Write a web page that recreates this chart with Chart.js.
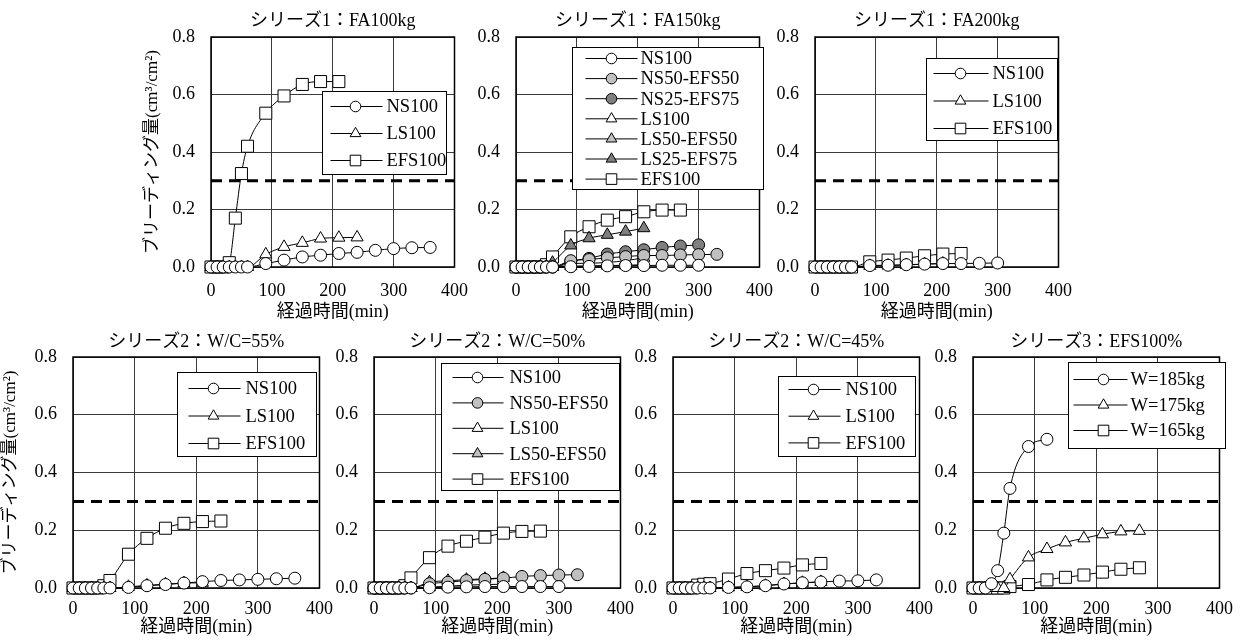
<!DOCTYPE html>
<html>
<head>
<meta charset="utf-8">
<script src="https://cdn.jsdelivr.net/npm/chart.js@4.4.1/dist/chart.umd.min.js"></script>
<style>
html,body{margin:0;padding:0;background:#fff;width:1244px;height:641px;overflow:hidden;position:relative;}
canvas{position:absolute;}
</style>
</head>
<body>
<script>
// ---------------- data ----------------
const TIME_MIN = [0,10,20,30,40,50,60,90,120,150,180,210,240,270,300,330,360];
const X_TICKS = [0,100,200,300,400];
const Y_TICKS = [0.0,0.2,0.4,0.6,0.8];
const LIMIT_LINE = 0.3;

// シリーズ1：FA100kg
const FA100_NS100  = [0,0,0,0,0,0,0,0.012,0.024,0.035,0.041,0.047,0.051,0.058,0.064,0.067,0.068];
const FA100_LS100  = [0,0,0,0,0,0,0,0.044,0.070,0.084,0.099,0.102,0.103];
const FA100_EFS100 = [0,0,0,0.015,0.170,0.325,0.420,0.535,0.595,0.635,0.645,0.645];

// シリーズ1：FA150kg
const FA150_NS100      = [0,0,0,0,0,0,0,0.001,0.002,0.004,0.005,0.005,0.006,0.006,0.006];
const FA150_NS50_EFS50 = [0,0,0,0,0,0,0,0.022,0.026,0.032,0.036,0.040,0.040,0.042,0.043,0.044];
const FA150_NS25_EFS75 = [0,0,0,0,0,0,0,0.020,0.030,0.045,0.053,0.060,0.068,0.073,0.077];
const FA150_LS100      = [0,0,0,0,0,0,0,0.003,0.004,0.005,0.006,0.008];
const FA150_LS50_EFS50 = [0,0,0,0,0,0,0,0.012,0.013,0.016,0.022,0.032];
const FA150_LS25_EFS75 = [0,0,0,0,0,0,0.015,0.075,0.100,0.112,0.123,0.135];
const FA150_EFS100     = [0,0,0,0,0,0.008,0.035,0.105,0.140,0.163,0.175,0.192,0.198,0.198];

// シリーズ1：FA200kg
const FA200_NS100  = [0,0,0,0,0,0,0,0.005,0.006,0.008,0.010,0.012,0.012,0.013,0.014];
const FA200_LS100  = [0,0,0,0,0,0,0,0.004,0.005,0.007,0.010,0.012];
const FA200_EFS100 = [0,0,0,0,0,0,0,0.018,0.024,0.031,0.039,0.045,0.047];

// シリーズ2：W/C=55%
const WC55_NS100  = [0,0,0,0,0,0,0,0.002,0.008,0.012,0.017,0.022,0.026,0.028,0.030,0.032,0.034];
const WC55_LS100  = [0,0,0,0,0,0,0,0.004,0.009,0.013,0.017,0.018];
const WC55_EFS100 = [0,0,0,0,0,0.008,0.026,0.117,0.172,0.207,0.224,0.230,0.232];

// シリーズ2：W/C=50%
const WC50_NS100      = [0,0,0,0,0,0,0,0.001,0.003,0.004,0.005,0.005,0.005,0.005,0.005];
const WC50_NS50_EFS50 = [0,0,0,0,0,0,0,0.015,0.020,0.026,0.030,0.034,0.040,0.043,0.045,0.046];
const WC50_LS100      = [0,0,0,0,0,0,0,0.003,0.006,0.010,0.012,0.013];
const WC50_LS50_EFS50 = [0,0,0,0,0,0,0,0.020,0.025,0.029,0.032,0.035];
const WC50_EFS100     = [0,0,0,0,0,0.008,0.035,0.105,0.145,0.162,0.176,0.190,0.196,0.197];

// シリーズ2：W/C=45%
const WC45_NS100  = [0,0,0,0,0,0,0,0.002,0.004,0.008,0.014,0.018,0.021,0.024,0.025,0.028];
const WC45_LS100  = [0,0,0,0,0,0,0,0.002,0.004,0.008,0.014,0.018,0.021];
const WC45_EFS100 = [0,0,0,0,0.010,0.013,0.015,0.031,0.050,0.060,0.069,0.080,0.085];

// シリーズ3：EFS100%
const S3_W185 = [0,0,0,0.015,0.060,0.190,0.345,0.490,0.515];
const S3_W175 = [0,0,0,0,0,0,0.030,0.106,0.135,0.158,0.172,0.186,0.196,0.198];
const S3_W165 = [0,0,0,0,0,0,0.005,0.012,0.028,0.037,0.045,0.055,0.065,0.070];

// ---------------- styles ----------------
const SERIF = "'Liberation Serif', 'Times New Roman', 'Noto Sans CJK JP', serif";
const WHITE = '#ffffff', LGRAY = '#c0c0c0', DGRAY = '#7f7f7f';
const PLOT_R = {circle: 6, triangle: 7, rect: 8.5};
const LEG_R  = {circle: 5.3, triangle: 6.2, rect: 7.5};

function drawMarker(ctx, shape, x, y, r, fill) {
  ctx.beginPath();
  if (shape === 'circle') {
    ctx.arc(x, y, r, 0, Math.PI * 2);
  } else if (shape === 'triangle') {
    ctx.moveTo(x, y - r);
    ctx.lineTo(x + 0.866 * r, y + 0.5 * r);
    ctx.lineTo(x - 0.866 * r, y + 0.5 * r);
    ctx.closePath();
  } else {
    const s = Math.SQRT1_2 * r;
    ctx.rect(x - s, y - s, 2 * s, 2 * s);
  }
  ctx.fillStyle = fill; ctx.fill();
  ctx.strokeStyle = '#000'; ctx.lineWidth = 1; ctx.stroke();
}

function series(label, values, shape, fill) {
  return {
    label, shape, fillc: fill,
    data: values.map((v, i) => ({x: TIME_MIN[i], y: v})),
    borderColor: '#000', borderWidth: 1, fill: false,
    pointStyle: shape, pointRadius: PLOT_R[shape],
    pointBackgroundColor: fill, pointBorderColor: '#000', pointBorderWidth: 1,
    cubicInterpolationMode: 'monotone', clip: false
  };
}
function limitLine() {
  return {
    label: '_limit', isRef: true,
    data: [{x: X_TICKS[0], y: LIMIT_LINE}, {x: X_TICKS[X_TICKS.length-1], y: LIMIT_LINE}],
    borderColor: '#000', borderWidth: 3, borderDash: [11, 7], pointRadius: 0, fill: false, clip: false
  };
}

const framePlugin = {
  id: 'frame',
  beforeDatasetsDraw(chart) {
    const {ctx, chartArea: a} = chart;
    ctx.save();
    ctx.strokeStyle = '#000'; ctx.lineWidth = 1.5;
    ctx.strokeRect(a.left, a.top, a.right - a.left, a.bottom - a.top);
    ctx.restore();
  }
};
function legendPlugin(cfg) {
  return {
    id: 'boxLegend',
    afterDatasetsDraw(chart) {
      const {ctx, chartArea: a} = chart;
      const items = chart.data.datasets.filter(d => !d.isRef);
      const x0 = Math.round(a.left + cfg.dx) + 0.5, y0 = Math.round(a.top + cfg.dy) + 0.5;
      ctx.save();
      ctx.fillStyle = '#fff'; ctx.fillRect(x0, y0, cfg.w, cfg.h);
      ctx.strokeStyle = '#000'; ctx.lineWidth = 1; ctx.strokeRect(x0, y0, cfg.w, cfg.h);
      items.forEach((it, i) => {
        const cy = y0 + cfg.first + i * cfg.row;
        ctx.beginPath(); ctx.moveTo(x0 + cfg.l0, cy); ctx.lineTo(x0 + cfg.l1, cy);
        ctx.strokeStyle = '#000'; ctx.lineWidth = 1; ctx.stroke();
        drawMarker(ctx, it.shape, x0 + cfg.mk, cy, LEG_R[it.shape], it.fillc);
        ctx.fillStyle = '#000'; ctx.font = cfg.fs + 'px ' + SERIF;
        ctx.textAlign = 'left'; ctx.textBaseline = 'middle';
        ctx.fillText(it.label, x0 + cfg.tx, cy + 1);
      });
      ctx.restore();
    }
  };
}

// ---------------- panels ----------------
const TOP = {t: 37, b: 267, ct: 0, ch: 324, tickPad: 13, xtPad: 0.5, titlePad: [10.7, 4.7]};
const BOT = {t: 357, b: 588, ct: 320, ch: 321, tickPad: 10, xtPad: 3, titlePad: [11.2, 4.2]};

const PANELS = [
  {row: TOP, l: 211, r: 465, title: 'シリーズ1：FA100kg', ytitle: true, wy: 75, ytPad: 6.8,
   legend: {dx: 111, dy: 54, w: 124, h: 83, first: 15, row: 27, l0: 8, l1: 60, mk: 33, tx: 64, fs: 18.5},
   ds: [series('NS100', FA100_NS100, 'circle', WHITE),
        series('LS100', FA100_LS100, 'triangle', WHITE),
        series('EFS100', FA100_EFS100, 'rect', WHITE)]},
  {row: TOP, l: 516, r: 770, title: 'シリーズ1：FA150kg', ytitle: false, wy: 45,
   legend: {dx: 56, dy: 10, w: 191, h: 142, first: 11, row: 20.1, l0: 13, l1: 65, mk: 39, tx: 68, fs: 18.5},
   ds: [series('NS100', FA150_NS100, 'circle', WHITE),
        series('NS50-EFS50', FA150_NS50_EFS50, 'circle', LGRAY),
        series('NS25-EFS75', FA150_NS25_EFS75, 'circle', DGRAY),
        series('LS100', FA150_LS100, 'triangle', WHITE),
        series('LS50-EFS50', FA150_LS50_EFS50, 'triangle', LGRAY),
        series('LS25-EFS75', FA150_LS25_EFS75, 'triangle', DGRAY),
        series('EFS100', FA150_EFS100, 'rect', WHITE)]},
  {row: TOP, l: 815, r: 1069, title: 'シリーズ1：FA200kg', ytitle: false, wy: 45,
   legend: {dx: 111, dy: 21, w: 131, h: 82, first: 15, row: 27.5, l0: 7, l1: 62, mk: 34, tx: 66, fs: 18.5},
   ds: [series('NS100', FA200_NS100, 'circle', WHITE),
        series('LS100', FA200_LS100, 'triangle', WHITE),
        series('EFS100', FA200_EFS100, 'rect', WHITE)]},
  {row: BOT, l: 73, r: 327, title: 'シリーズ2：W/C=55%', ytitle: true, wy: 73, ytPad: 0.8,
   legend: {dx: 104, dy: 15, w: 139, h: 84, first: 16, row: 27.5, l0: 11, l1: 63, mk: 36, tx: 68, fs: 18.5},
   ds: [series('NS100', WC55_NS100, 'circle', WHITE),
        series('LS100', WC55_LS100, 'triangle', WHITE),
        series('EFS100', WC55_EFS100, 'rect', WHITE)]},
  {row: BOT, l: 374, r: 628, title: 'シリーズ2：W/C=50%', ytitle: false, wy: 45,
   legend: {dx: 67, dy: 6, w: 178, h: 127, first: 14, row: 25.4, l0: 11, l1: 62, mk: 36, tx: 68, fs: 18.5},
   ds: [series('NS100', WC50_NS100, 'circle', WHITE),
        series('NS50-EFS50', WC50_NS50_EFS50, 'circle', LGRAY),
        series('LS100', WC50_LS100, 'triangle', WHITE),
        series('LS50-EFS50', WC50_LS50_EFS50, 'triangle', LGRAY),
        series('EFS100', WC50_EFS100, 'rect', WHITE)]},
  {row: BOT, l: 673, r: 927, title: 'シリーズ2：W/C=45%', ytitle: false, wy: 45,
   legend: {dx: 105, dy: 19, w: 137, h: 80, first: 13, row: 26.7, l0: 10, l1: 62, mk: 35, tx: 67, fs: 18.5},
   ds: [series('NS100', WC45_NS100, 'circle', WHITE),
        series('LS100', WC45_LS100, 'triangle', WHITE),
        series('EFS100', WC45_EFS100, 'rect', WHITE)]},
  {row: BOT, l: 973, r: 1227, title: 'シリーズ3：EFS100%', ytitle: false, wy: 45,
   legend: {dx: 95, dy: 5, w: 157, h: 86, first: 17, row: 25.5, l0: 5, l1: 59, mk: 35, tx: 62, fs: 18.5},
   ds: [series('W=185kg', S3_W185, 'circle', WHITE),
        series('W=175kg', S3_W175, 'triangle', WHITE),
        series('W=165kg', S3_W165, 'rect', WHITE)]}
];

const RP = 16;
PANELS.forEach(p => {
  const R = p.row;
  const cv = document.createElement('canvas');
  const left = p.l - p.wy;
  const width = p.wy + (p.r - p.l) + RP;
  const hx = (R.ct + R.ch) - R.b;
  cv.width = width; cv.height = R.ch;
  cv.style.left = left + 'px'; cv.style.top = R.ct + 'px';
  cv.style.width = width + 'px'; cv.style.height = R.ch + 'px';
  document.body.appendChild(cv);
  const ht = R.t - R.ct;

  new Chart(cv.getContext('2d'), {
    type: 'line',
    data: {datasets: [...p.ds, limitLine()]},
    options: {
      responsive: false, animation: false, devicePixelRatio: 1,
      layout: {padding: {left: 0, top: 0, right: RP, bottom: 0}},
      plugins: {
        legend: {display: false}, tooltip: {enabled: false},
        title: {display: true, text: p.title, fullSize: false, color: '#000',
          font: {family: SERIF, size: 18, weight: 'normal', lineHeight: 1.2},
          padding: {top: R.titlePad[0], bottom: ht - R.titlePad[0] - 21.6}}
      },
      scales: {
        x: {
          type: 'linear', min: X_TICKS[0], max: X_TICKS[X_TICKS.length-1],
          afterBuildTicks: s => { s.ticks = X_TICKS.map(v => ({value: v})); },
          afterFit: s => { s.height = hx; },
          ticks: {color: '#000', font: {family: SERIF, size: 18}, padding: R.tickPad, maxRotation: 0, autoSkip: false,
                  callback: v => String(v)},
          grid: {color: '#3a3a3a', lineWidth: 1, drawTicks: false},
          border: {display: false},
          title: {display: true, text: '経過時間(min)', color: '#000',
                  font: {family: SERIF, size: 18, lineHeight: 1.2}, padding: {top: 0, bottom: R.xtPad}}
        },
        y: {
          type: 'linear', min: Y_TICKS[0], max: Y_TICKS[Y_TICKS.length-1],
          afterBuildTicks: s => { s.ticks = Y_TICKS.map(v => ({value: v})); },
          afterFit: s => { s.width = p.wy; },
          ticks: {color: '#000', font: {family: SERIF, size: 18}, padding: 16,
                  callback: v => Number(v).toFixed(1)},
          grid: {color: '#3a3a3a', lineWidth: 1, drawTicks: false},
          border: {display: false},
          title: {display: p.ytitle, text: 'ブリーディング量(cm³/cm²)', color: '#000',
                  font: {family: SERIF, size: 17, lineHeight: 1.2}, padding: {top: p.ytPad || 0, bottom: 0}}
        }
      }
    },
    plugins: [framePlugin, legendPlugin(p.legend)]
  });
});
</script>
</body>
</html>
